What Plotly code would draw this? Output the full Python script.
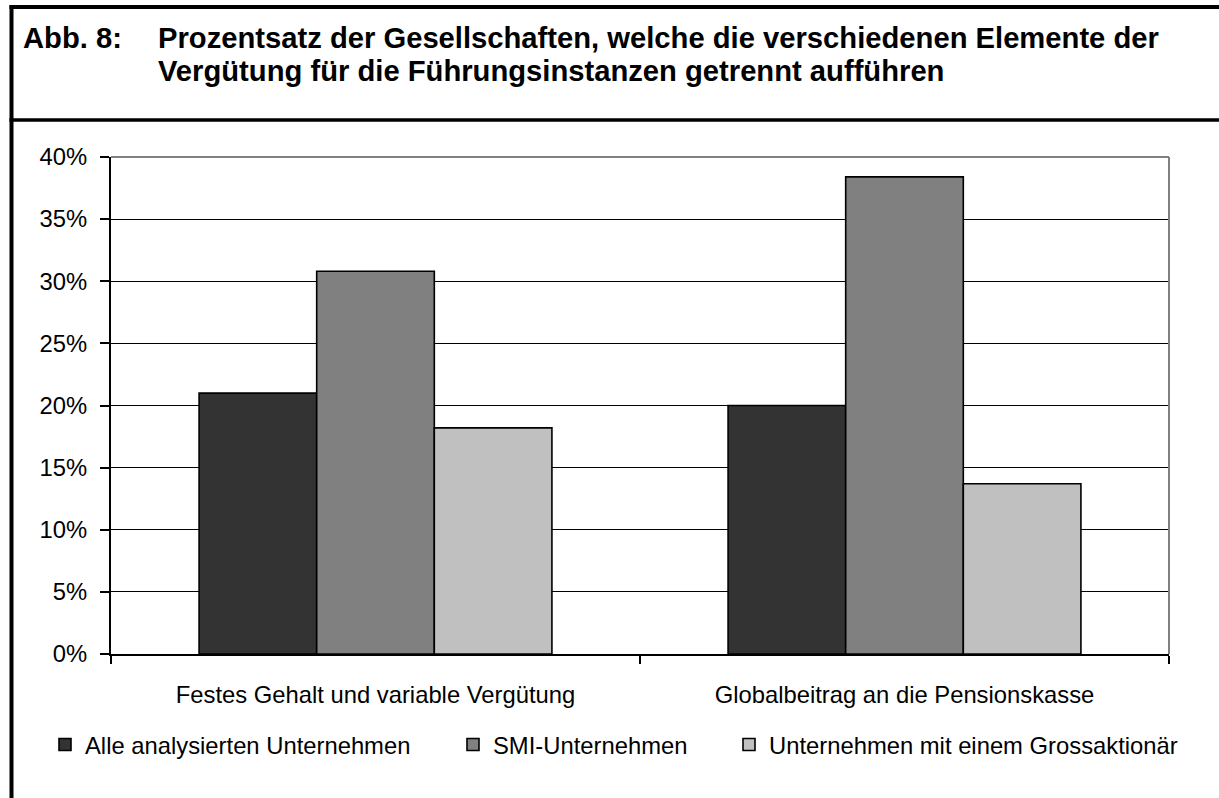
import plotly.graph_objects as go

categories = ["Festes Gehalt und variable Vergütung", "Globalbeitrag an die Pensionskasse"]
series_names = ["Alle analysierten Unternehmen", "SMI-Unternehmen", "Unternehmen mit einem Grossaktionär"]
alle_values = [21.0, 20.0]
smi_values = [30.8, 38.4]
gross_values = [18.2, 13.7]
y_tick_values = [0, 5, 10, 15, 20, 25, 30, 35, 40]
y_tick_labels = ["0%", "5%", "10%", "15%", "20%", "25%", "30%", "35%", "40%"]
title_label = "Abb. 8:"
title_line1 = "Prozentsatz der Gesellschaften, welche die verschiedenen Elemente der"
title_line2 = "Vergütung für die Führungsinstanzen getrennt aufführen"

W, H = 1219, 798
ML, MR, MT, MB = 111, 50, 157, 144
PW = W - ML - MR
PH = H - MT - MB

def px(x):
    return (x - ML) / PW

def py(y):
    return (H - MB - y) / PH

FONT = "Liberation Sans, Arial, sans-serif"
FS = 23.8
colors = ["#333333", "#808080", "#C0C0C0"]
values = [alle_values, smi_values, gross_values]
legends = ["legend", "legend2", "legend3"]

fig = go.Figure()
for name, vals, col, lg in zip(series_names, values, colors, legends):
    fig.add_trace(go.Bar(
        x=categories, y=vals, name=name, legend=lg, showlegend=True,
        marker=dict(color=col, line=dict(color="#000000", width=1.6)),
    ))

legend_x = [45, 453, 729]
leg_common = dict(
    orientation="h", xref="container", yref="container", xanchor="left", yanchor="middle",
    font=dict(family=FONT, size=FS, color="#000000"), bgcolor="rgba(0,0,0,0)",
    borderwidth=0, itemwidth=30, visible=True,
)
y_leg = 1 - 744.5 / H

shapes = [
    # outer frame
    dict(type="line", xref="paper", yref="paper", x0=px(9.5), x1=px(W + 5), y0=py(7), y1=py(7),
         line=dict(color="#000000", width=4)),
    dict(type="line", xref="paper", yref="paper", x0=px(11.5), x1=px(11.5), y0=py(5), y1=py(H + 5),
         line=dict(color="#000000", width=4)),
    dict(type="line", xref="paper", yref="paper", x0=px(9.5), x1=px(W + 5), y0=py(120), y1=py(120),
         line=dict(color="#000000", width=3.5)),
    # plot area border top and right (gray)
    dict(type="line", xref="paper", yref="paper", x0=0, x1=1, y0=1, y1=1,
         line=dict(color="#808080", width=2), layer="above"),
    dict(type="line", xref="paper", yref="paper", x0=1, x1=1, y0=0, y1=1,
         line=dict(color="#808080", width=2), layer="above"),
]

TFS = 29.2
tfont = dict(family=FONT, size=TFS, color="#000000")
annotations = [
    dict(text="<b>%s</b>" % title_label, xref="paper", yref="paper", x=px(21), y=py(56.2),
         xanchor="left", yanchor="bottom", showarrow=False, font=tfont),
    dict(text="<b>%s</b>" % title_line1, xref="paper", yref="paper", x=px(155.5), y=py(56.2),
         xanchor="left", yanchor="bottom", showarrow=False, font=tfont),
    dict(text="<b>%s</b>" % title_line2, xref="paper", yref="paper", x=px(155.5), y=py(89.2),
         xanchor="left", yanchor="bottom", showarrow=False, font=tfont),
]

fig.update_layout(
    width=W, height=H,
    margin=dict(l=ML, r=MR, t=MT, b=MB, pad=0),
    paper_bgcolor="#FFFFFF", plot_bgcolor="#FFFFFF",
    font=dict(family=FONT, size=FS, color="#000000"),
    showlegend=True,
    barmode="group", bargap=0.333, bargroupgap=0,
    legend=dict(x=legend_x[0] / W, y=y_leg, **leg_common),
    legend2=dict(x=legend_x[1] / W, y=y_leg, **leg_common),
    legend3=dict(x=legend_x[2] / W, y=y_leg, **leg_common),
    shapes=shapes, annotations=annotations,
)
fig.update_xaxes(
    type="category", tickson="boundaries", ticks="outside", ticklen=8, tickwidth=1.5,
    tickcolor="#000000", showline=True, linecolor="#000000", linewidth=2,
    showgrid=False, ticklabelstandoff=18,
    tickfont=dict(family=FONT, size=FS, color="#000000"),
)
fig.update_yaxes(
    range=[0, 40], tickvals=y_tick_values, ticktext=y_tick_labels,
    ticks="outside", ticklen=9, tickwidth=1.5, tickcolor="#000000",
    showline=True, linecolor="#000000", linewidth=2,
    showgrid=True, gridcolor="#000000", gridwidth=1.4, zeroline=False,
    ticklabelstandoff=8,
    tickfont=dict(family=FONT, size=FS, color="#000000"),
)

fig.write_html(
    "out.html",
    config={"displayModeBar": False},
    post_script="document.body.style.margin='0';document.body.style.overflow='hidden';",
)
